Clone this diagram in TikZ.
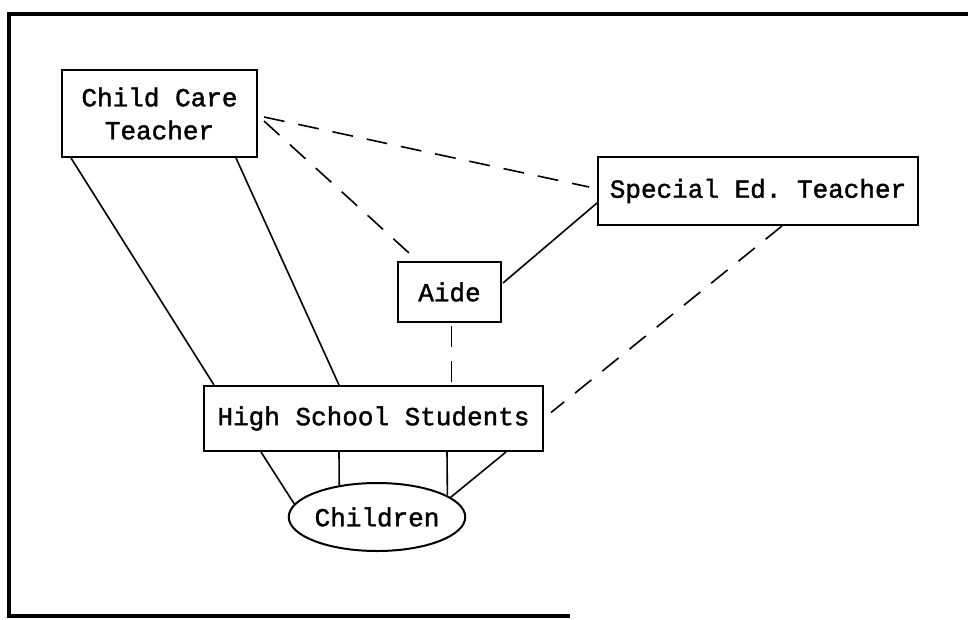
\documentclass[tikz,border=0pt]{standalone}
\usepackage{fontspec}
\setmonofont[FakeBold=1.5]{Liberation Mono}
\usetikzlibrary{calc,shapes.geometric}
\begin{document}
\begin{tikzpicture}[x=1pt,y=-1pt,
  lbl/.style={font=\ttfamily\fontsize{26}{33}\selectfont,align=center,inner sep=0pt},
  box/.style={lbl,draw,line width=2pt,rectangle},
  oval/.style={lbl,draw,line width=2pt,ellipse},
  link/.style={line width=1.6pt},
  dlink/.style={line width=1.6pt,dash pattern=on 21pt off 14pt}]
\useasboundingbox (0,0) rectangle (968,619);
\fill[white] (0,0) rectangle (968,619);
\draw[line width=3.5pt,line join=miter] (570,616) -- (9,616) -- (9,14) -- (968,14);

\node[box,minimum width=195pt,minimum height=87pt] (cct) at (159.5,113.5) {Child Care\\Teacher};
\node[box,minimum width=320pt,minimum height=68pt] (set) at (758,191) {Special Ed. Teacher};
\node[box,minimum width=103pt,minimum height=60pt] (aide) at (449.5,292) {Aide};
\node[box,minimum width=339pt,minimum height=65pt] (hss) at (373.5,418.5) {High School Students};
\node[oval,minimum width=166pt,minimum height=68pt] (ch) at (377,517) {Children};

\draw[link] ($(cct.south west)+(10,0)$) -- ($(hss.north west)+(11,0)$);
\draw[link] ($(cct.south west)+(175,0)$) -- ($(hss.north west)+(136,0)$);
\draw[dlink] ($(cct.north east)+(6,48)$) -- ($(set.west)+(-8,-4)$);
\draw[dlink] ($(cct.north east)+(6,52)$) -- ($(aide.north west)+(12,-8)$);
\draw[link] ($(aide.east)+(1,-9)$) -- ($(set.south west)+(0,-23)$);
\draw[dlink] ($(aide.south)+(2,3)$) -- ($(hss.north)+(78,0)$);
\draw[dlink] ($(set.south)+(24,0)$) -- ($(hss.east)+(7,-6)$);
\draw[link] ($(hss.south west)+(58,0)$) -- (ch.171);
\draw[link] ($(hss.south west)+(136,0)$) -- (ch.140);
\draw[link] ($(hss.south west)+(244,0)$) -- (ch.17);
\draw[link] ($(hss.south west)+(303,0)$) -- (ch.15);
\end{tikzpicture}
\end{document}
